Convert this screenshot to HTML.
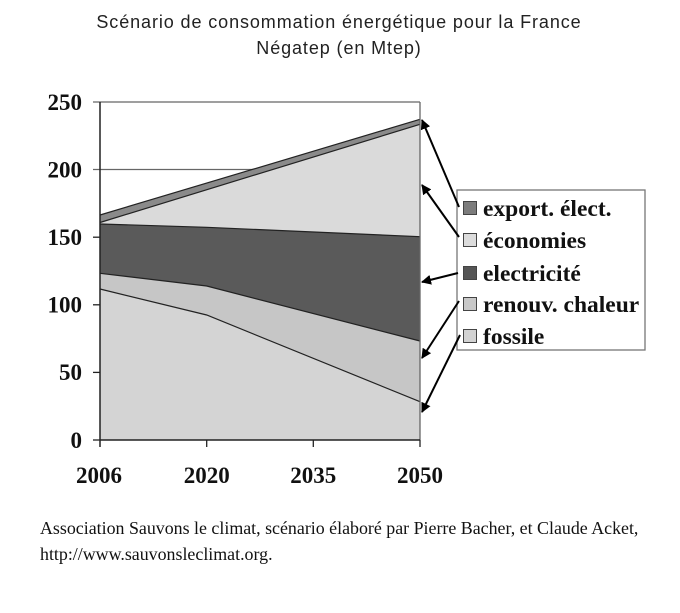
<!DOCTYPE html>
<html>
<head>
<meta charset="utf-8">
<style>
  html, body { margin:0; padding:0; background:#ffffff; }
  body { width:680px; height:613px; position:relative; overflow:hidden; }
  svg { position:absolute; left:0; top:0; }
</style>
</head>
<body>
<svg width="680" height="613" viewBox="0 0 680 613" xmlns="http://www.w3.org/2000/svg">
  <defs>
    <marker id="ah" viewBox="0 0 10 10" refX="9" refY="5" markerWidth="10" markerHeight="10" markerUnits="userSpaceOnUse" orient="auto">
      <path d="M0,0 L10,5 L0,10 z" fill="#000"/>
    </marker>
  </defs>

  <!-- Title -->
  <text x="339" y="28" text-anchor="middle" font-family="Liberation Sans, DejaVu Sans, sans-serif" font-size="18" letter-spacing="0.9" fill="#222">Scénario de consommation énergétique pour la France</text>
  <text x="339" y="54" text-anchor="middle" font-family="Liberation Sans, DejaVu Sans, sans-serif" font-size="18" letter-spacing="0.9" fill="#222">Négatep (en Mtep)</text>

  <!-- gridlines -->
  <line x1="93" y1="102" x2="420" y2="102" stroke="#666" stroke-width="1.3"/>
  <line x1="93" y1="169.5" x2="420" y2="169.5" stroke="#666" stroke-width="1.3"/>

  <!-- areas -->
  <polygon points="100,440 100,289 206.7,315 420,401.7 420,440" fill="#d4d4d4"/>
  <polygon points="100,289 206.7,315 420,401.7 420,341 206.7,286 100,273.3" fill="#c6c6c6"/>
  <polygon points="100,273.3 206.7,286 420,341 420,236.7 206.7,227.3 100,224" fill="#5a5a5a"/>
  <polygon points="100,224 206.7,227.3 420,236.7 420,124.3 100,222.5" fill="#dadada"/>
  <polygon points="100,222.5 420,124.3 420,119.3 100,215" fill="#8a8a8a"/>

  <!-- boundary lines -->
  <polyline points="100,289 206.7,315 420,401.7" fill="none" stroke="#222" stroke-width="1.2"/>
  <polyline points="100,273.3 206.7,286 420,341" fill="none" stroke="#222" stroke-width="1.2"/>
  <polyline points="100,224 206.7,227.3 420,236.7" fill="none" stroke="#222" stroke-width="1.2"/>
  <polyline points="100,222.5 420,124.3" fill="none" stroke="#222" stroke-width="1.2"/>
  <polyline points="100,215 420,119.3" fill="none" stroke="#222" stroke-width="1.2"/>

  <!-- right frame -->
  <line x1="420" y1="102" x2="420" y2="440" stroke="#666" stroke-width="1.3"/>

  <!-- axes -->
  <line x1="100" y1="102" x2="100" y2="447" stroke="#222" stroke-width="1.5"/>
  <line x1="100" y1="440" x2="420" y2="440" stroke="#222" stroke-width="1.5"/>
  <g stroke="#222" stroke-width="1.3">
    <line x1="93" y1="237.2" x2="100" y2="237.2"/>
    <line x1="93" y1="304.8" x2="100" y2="304.8"/>
    <line x1="93" y1="372.4" x2="100" y2="372.4"/>
    <line x1="93" y1="440" x2="100" y2="440"/>
    <line x1="206.7" y1="440" x2="206.7" y2="447"/>
    <line x1="313.3" y1="440" x2="313.3" y2="447"/>
    <line x1="420" y1="440" x2="420" y2="447"/>
  </g>

  <!-- y labels -->
  <g font-family="Liberation Serif, serif" font-weight="bold" font-size="23" fill="#111" text-anchor="end">
    <text x="82" y="110">250</text>
    <text x="82" y="177.5">200</text>
    <text x="82" y="245">150</text>
    <text x="82" y="312.5">100</text>
    <text x="82" y="380">50</text>
    <text x="82" y="448">0</text>
  </g>
  <!-- x labels -->
  <g font-family="Liberation Serif, serif" font-weight="bold" font-size="23" fill="#111" text-anchor="middle">
    <text x="99" y="483">2006</text>
    <text x="206.7" y="483">2020</text>
    <text x="313.3" y="483">2035</text>
    <text x="420" y="483">2050</text>
  </g>

  <!-- legend box -->
  <rect x="457" y="190" width="188" height="160" fill="#fff" stroke="#777" stroke-width="1.3"/>
  <g stroke="#444" stroke-width="1">
    <rect x="463.5" y="201.5" width="13" height="13" fill="#7c7c7c"/>
    <rect x="463.5" y="233.5" width="13" height="13" fill="#dcdcdc"/>
    <rect x="463.5" y="266.5" width="13" height="13" fill="#555"/>
    <rect x="463.5" y="297.5" width="13" height="13" fill="#c8c8c8"/>
    <rect x="463.5" y="329.5" width="13" height="13" fill="#d2d2d2"/>
  </g>
  <g font-family="Liberation Serif, serif" font-weight="bold" font-size="23.5" fill="#111">
    <text x="483" y="216">export. élect.</text>
    <text x="483" y="248">économies</text>
    <text x="483" y="281">electricité</text>
    <text x="483" y="312">renouv. chaleur</text>
    <text x="483" y="344">fossile</text>
  </g>

  <!-- arrows -->
  <g stroke="#000" stroke-width="2" fill="none" marker-end="url(#ah)">
    <line x1="459" y1="207" x2="422" y2="120"/>
    <line x1="459" y1="237" x2="422" y2="185"/>
    <line x1="458" y1="273" x2="422" y2="282"/>
    <line x1="459" y1="301" x2="422" y2="358"/>
    <line x1="460" y1="335" x2="422" y2="412"/>
  </g>

  <!-- caption -->
  <g font-family="Liberation Serif, serif" font-size="17.9" fill="#111">
    <text x="40" y="534">Association Sauvons le climat, scénario élaboré par Pierre Bacher, et Claude Acket,</text>
    <text x="40" y="560">http://www.sauvonsleclimat.org.</text>
  </g>
</svg>
</body>
</html>
